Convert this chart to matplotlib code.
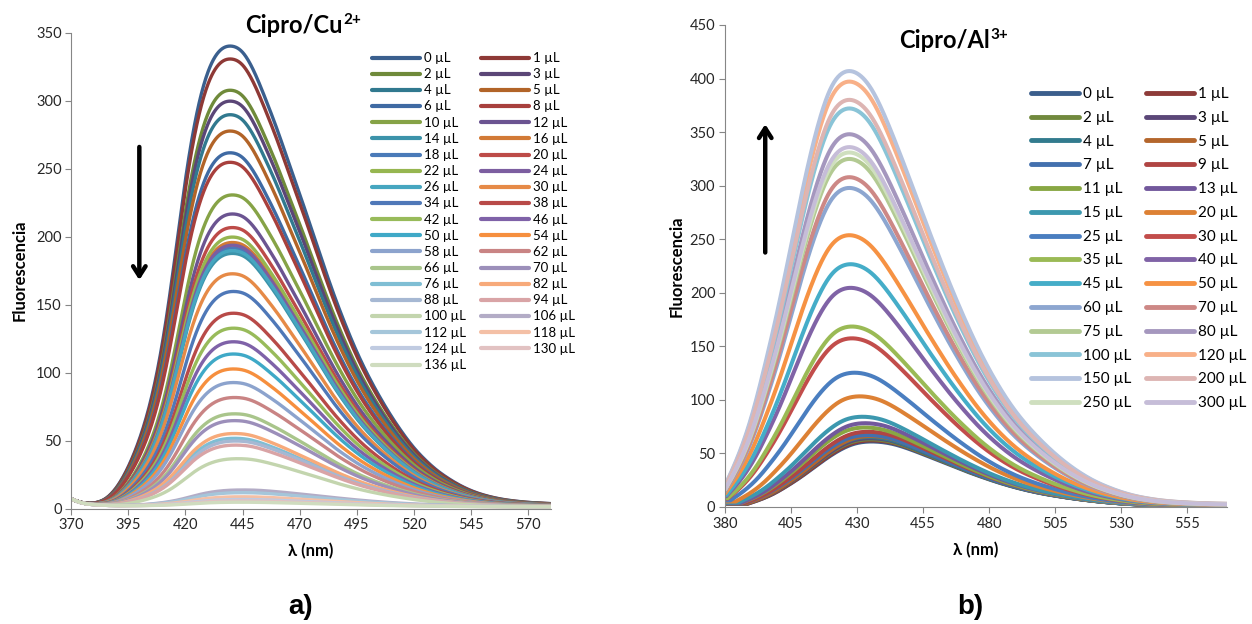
import numpy as np
import matplotlib
matplotlib.use("Agg")
import matplotlib.pyplot as plt
from matplotlib.lines import Line2D

plt.rcParams['font.family'] = ['Lato', 'DejaVu Sans']

# ---------------- Panel a: Cipro / Cu2+ ----------------
a_labels = ["0", "1", "2", "3", "4", "5", "6", "8", "10", "12", "14", "16", "18", "20",
            "22", "24", "26", "30", "34", "38", "42", "46", "50", "54", "58", "62", "66",
            "70", "76", "82", "88", "94", "100", "106", "112", "118", "124", "130", "136"]
a_peak = [338.5, 329, 306, 298, 288, 276, 260, 253, 229, 215, 186, 194, 190, 205,
          198, 192, 188, 171, 158, 142, 131, 121, 112, 101, 91, 80, 68,
          63, 50, 53.5, 48, 45, 35, 12, 10, 7, 5, 4, 3]
a_peak_nm = [440, 440, 440, 440, 440, 440, 440, 440, 441, 441, 441, 441, 441, 441,
             441, 441, 441, 441, 441.5, 441.5, 441.5, 441.5, 441.5, 441.5, 441.5, 442, 442,
             442, 442, 442, 442.5, 442.5, 443.5, 446, 446, 446, 446, 446, 446]
a_colors = ['#3A5F8E', '#8E3936', '#6F8A3A', '#5B4677', '#31798F', '#B26428',
            '#3F6AA3', '#A8403D', '#86A346', '#6B5491', '#3C93AA', '#D27A36',
            '#4A7AB8', '#BD4B48', '#96B650', '#7C5EA0', '#46A6C0', '#E68A47',
            '#4F78B8', '#B84A48', '#98BB5A', '#7F62A8', '#3FA9C7', '#F68F3E',
            '#8CA3CD', '#C98484', '#A9C58B', '#9C8FBA', '#7FBED4', '#F7AA7A',
            '#A6B8D3', '#D9A4A6', '#C3D5AE', '#B3ACC6', '#A5C6DA', '#F4C0A6',
            '#C0CBE1', '#E2C2C2', '#CFDCBF']
# emission profile of the 0 uL spectrum (peak at 440 nm), read every 5 nm
a_prof_nm = list(range(370, 581, 5))
a_prof = [0, 0.3, 1.3, 5, 14, 29, 50, 79, 121, 178, 240, 289, 320, 335, 338.5,
          334, 320, 300, 278, 254, 230, 205, 180, 156, 134, 114, 96.5, 81, 67, 54.5,
          43.5, 34.5, 27, 21, 16, 12, 9, 6.8, 5.2, 4.1, 3.3, 2.8, 2.4]
a_ref_nm = 440
# scatter / baseline common to all spectra
a_base_nm = [370, 372, 374, 376, 378, 380, 385, 390, 400, 450, 500, 580]
a_base = [7, 5.6, 4.4, 3.6, 3.1, 2.8, 2.3, 2.0, 1.8, 1.6, 1.4, 1.2]

# ---------------- Panel b: Cipro / Al3+ ----------------
b_labels = ["0", "1", "2", "3", "4", "5", "7", "9", "11", "13", "15", "20", "25", "30",
            "35", "40", "45", "50", "60", "70", "75", "80", "100", "120", "150", "200",
            "250", "300"]
b_peak = [61, 62, 63, 64, 65, 66, 67, 70, 74, 78, 84, 103, 125, 157,
          168, 204, 226, 253, 297, 307, 324, 347, 371, 396, 405.8, 379, 330, 335]
b_peak_nm = [435.5, 435.5, 435, 435, 434.5, 435, 434, 434, 433, 433, 432, 431, 429, 428,
             428, 427.5, 427.5, 427, 427, 427, 427, 427, 427, 427, 427, 427, 427, 427]
b_colors = ['#3B5E8C', '#8E3B39', '#71893D', '#5B4778', '#327B8E', '#B4662C',
            '#4370AE', '#B04543', '#88A743', '#72589C', '#3C98AF', '#DD8134',
            '#4A7EC0', '#C24D4B', '#9ABA55', '#8063A6', '#45ADC8', '#F69243',
            '#8DA6D0', '#CD8886', '#B3CA93', '#A597BE', '#8AC4D7', '#F8B088',
            '#B5C3DE', '#DDB5B3', '#CFDFBF', '#C6BDD8']
# emission profile of the 150 uL spectrum (peak at 427 nm), read every 5 nm
b_prof_nm = list(range(380, 571, 5))
b_prof = [20, 48, 84, 131, 184, 243, 302, 353, 389, 404, 403, 390, 366, 336,
          304, 271, 239, 208, 179, 152, 128, 107, 89, 74, 61, 49.5, 39.5, 31, 24,
          18.5, 14, 10.5, 8, 6.2, 5, 4.2, 3.6, 3.2, 3]
b_ref_nm = 427


def cspline(xk, yk, x):
    """Natural cubic spline through the read points (for smooth drawing)."""
    xk = np.asarray(xk, float)
    yk = np.asarray(yk, float)
    n = len(xk)
    h = np.diff(xk)
    A = np.zeros((n, n))
    r = np.zeros(n)
    A[0, 0] = A[-1, -1] = 1
    for i in range(1, n - 1):
        A[i, i - 1] = h[i - 1]
        A[i, i] = 2 * (h[i - 1] + h[i])
        A[i, i + 1] = h[i]
        r[i] = 3 * ((yk[i + 1] - yk[i]) / h[i] - (yk[i] - yk[i - 1]) / h[i - 1])
    c = np.linalg.solve(A, r)
    b = (yk[1:] - yk[:-1]) / h - h * (2 * c[:-1] + c[1:]) / 3
    d = (c[1:] - c[:-1]) / (3 * h)
    x = np.clip(x, xk[0], xk[-1])
    idx = np.clip(np.searchsorted(xk, x) - 1, 0, n - 2)
    dx = x - xk[idx]
    return np.maximum(yk[idx] + b[idx] * dx + c[idx] * dx**2 + d[idx] * dx**3, 0)


W, H = 1252, 624
fig = plt.figure(figsize=(W / 100, H / 100), dpi=100)


def fx(px):
    return px / W


def fy(py):
    return 1 - py / H


ax_a = fig.add_axes([fx(71.3), fy(508.5), (550.7 - 71.3) / W, (508.5 - 32.7) / H])
ax_b = fig.add_axes([fx(725.1), fy(507), (1226.7 - 725.1) / W, (507 - 25) / H])

lam_a = np.linspace(370, 580, 841)
pa_max = max(a_prof)
base_a = np.interp(lam_a, a_base_nm, a_base)
for pk, pnm, col in zip(a_peak, a_peak_nm, a_colors):
    y = pk * cspline(a_prof_nm, a_prof, lam_a - (pnm - a_ref_nm)) / pa_max + base_a
    ax_a.plot(lam_a, y, color=col, lw=2.4, solid_capstyle='round')

lam_b = np.linspace(380, 570, 761)
pb_max = max(b_prof)
for pk, pnm, col in zip(b_peak, b_peak_nm, b_colors):
    y = pk * cspline(b_prof_nm, b_prof, lam_b - (pnm - b_ref_nm)) / pb_max
    ax_b.plot(lam_b, y, color=col, lw=2.9, solid_capstyle='round')

gray = '#868686'
for ax in (ax_a, ax_b):
    for s in ('top', 'right'):
        ax.spines[s].set_visible(False)
    for s in ('left', 'bottom'):
        ax.spines[s].set_color(gray)
        ax.spines[s].set_linewidth(0.8)
    ax.tick_params(axis='both', direction='out', length=4, width=0.8, color=gray,
                   labelsize=10.5, labelcolor='#262626', pad=3)
    ax.set_facecolor('none')

ax_a.set_xlim(370, 580)
ax_a.set_ylim(0, 350)
ax_a.set_xticks(np.arange(370, 571, 25))
ax_a.set_yticks(np.arange(0, 351, 50))
ax_b.set_xlim(380, 570)
ax_b.set_ylim(0, 450)
ax_b.set_xticks(np.arange(380, 556, 25))
ax_b.set_yticks(np.arange(0, 451, 50))

lab_font = dict(fontsize=12, fontweight='bold', color='black')
ax_a.set_ylabel('Fluorescencia', labelpad=6, **lab_font)
ax_b.set_ylabel('Fluorescencia', labelpad=4, **lab_font)
ax_a.set_xlabel('λ (nm)', labelpad=8, **lab_font)
ax_b.set_xlabel('λ (nm)', labelpad=8, **lab_font)

# titles with superscript charges
fig.canvas.draw()
rend = fig.canvas.get_renderer()
for xpx, ybase, main, sup in [(245, 33, 'Cipro/Cu', '2+'), (899, 48, 'Cipro/Al', '3+')]:
    t = fig.text(fx(xpx), fy(ybase), main, fontsize=17, fontweight='bold',
                 ha='left', va='baseline')
    bb = t.get_window_extent(renderer=rend)
    fig.text((bb.x1 + 1) / W, fy(ybase - 9), sup, fontsize=11, fontweight='bold',
             ha='left', va='baseline')

# panel tags
fig.text(fx(301), fy(607), 'a)', fontsize=20, fontweight='bold', ha='center', va='center',
         family=['Liberation Sans', 'DejaVu Sans'])
fig.text(fx(970), fy(607), 'b)', fontsize=20, fontweight='bold', ha='center', va='center',
         family=['Liberation Sans', 'DejaVu Sans'])

# arrows
ax_a.annotate('', xy=(399.8, 166), xytext=(399.8, 268),
              arrowprops=dict(arrowstyle='->,head_length=0.7,head_width=0.45', lw=3.2, color='black'))
ax_b.annotate('', xy=(395.2, 360), xytext=(395.2, 235),
              arrowprops=dict(arrowstyle='->,head_length=0.7,head_width=0.45', lw=3.2, color='black'))


def two_col_legend(ax, labels, colors, lw, fs, x1, x2, ytop, hl, spacing, pad):
    hs = [Line2D([0], [0], color=c, lw=lw + 0.6, solid_capstyle='round') for c in colors]
    labs = [f'{l} µL' for l in labels]
    cols = [(hs[0::2], labs[0::2], x1), (hs[1::2], labs[1::2], x2)]
    legs = []
    for hh, ll, x in cols:
        leg = ax.legend(hh, ll, loc='upper left', bbox_to_anchor=(fx(x), fy(ytop)),
                        bbox_transform=fig.transFigure, frameon=False, fontsize=fs,
                        borderpad=0, borderaxespad=0, handlelength=hl, handletextpad=pad,
                        labelspacing=spacing, handleheight=0.6)
        legs.append(leg)
    ax.add_artist(legs[0])


two_col_legend(ax_a, a_labels, a_colors, 2.4, 9.5, 372, 480.7, 52, 3.64, 0.315, 0.3)
two_col_legend(ax_b, b_labels, b_colors, 2.9, 11, 1030.7, 1146, 87, 3.16, 0.64, 0.26)

fig.savefig('out.png', dpi=100)
